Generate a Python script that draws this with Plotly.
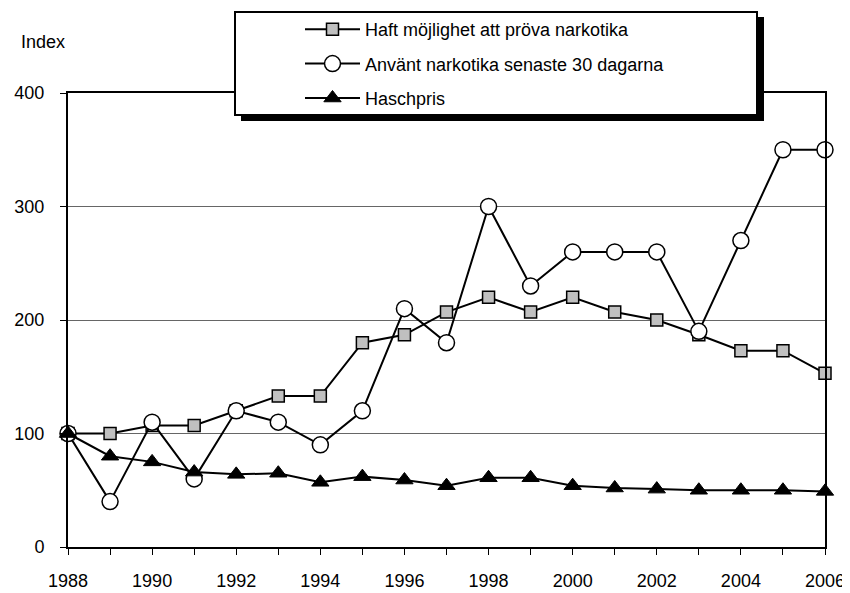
import plotly.graph_objects as go

years = list(range(1988, 2007))
haft = [100, 100, 107, 107, 120, 133, 133, 180, 187, 207, 220, 207, 220, 207, 200, 187, 173, 173, 153]
anvant = [100, 40, 110, 60, 120, 110, 90, 120, 210, 180, 300, 230, 260, 260, 260, 190, 270, 350, 350]
hasch = [100, 80, 75, 66, 64, 65, 57, 62, 59, 54, 61, 61, 54, 52, 51, 50, 50, 50, 49]
names = ["Haft möjlighet att pröva narkotika", "Använt narkotika senaste 30 dagarna", "Haschpris"]
xticks = list(range(1988, 2007, 2))
yticks = [0, 100, 200, 300, 400]

FONT = "Liberation Sans, Arial, sans-serif"
OFF = 8  # page body margin
W, H = 850 - OFF, 593 - OFF
ML, MR, MT, MB = 68 - OFF, 25, 93 - OFF, 46
PW, PH = W - ML - MR, H - MT - MB


def px_x(p):
    return (p - OFF - ML) / PW


def px_y(p):
    return (H - MB - (p - OFF)) / PH


fig = go.Figure()
fig.add_trace(go.Scatter(
    x=years, y=haft, name=names[0], mode="lines+markers", legendgroup="a",
    line=dict(color="black", width=2), cliponaxis=False,
    marker=dict(symbol="square", size=12, color="#c0c0c0", line=dict(color="black", width=1.5))))
fig.add_trace(go.Scatter(
    x=years, y=anvant, name=names[1], mode="lines+markers", legendgroup="b",
    line=dict(color="black", width=2), cliponaxis=False,
    marker=dict(symbol="circle", size=16, color="white", line=dict(color="black", width=1.5))))
fig.add_trace(go.Scatter(
    x=years, y=hasch, name=names[2], mode="lines+markers", legendgroup="c",
    line=dict(color="black", width=2), cliponaxis=False,
    marker=dict(symbol="triangle-up", size=15, color="black", line=dict(color="black", width=1))))

# legend box with shadow
bx0, by0, bx1, by1 = 235, 12, 757, 115
fig.add_shape(type="rect", xref="paper", yref="paper", layer="above",
              x0=px_x(bx0 + 6), x1=px_x(bx1 + 7), y0=px_y(by1 + 6), y1=px_y(by0 + 5),
              fillcolor="black", line=dict(width=0))
fig.add_shape(type="rect", xref="paper", yref="paper", layer="above",
              x0=px_x(bx0), x1=px_x(bx1), y0=px_y(by1), y1=px_y(by0),
              fillcolor="white", line=dict(color="black", width=2))

fig.add_annotation(text="Index", xref="paper", yref="paper", x=px_x(43), y=px_y(42),
                   xanchor="center", yanchor="middle", showarrow=False,
                   font=dict(family=FONT, size=18, color="black"))

fig.update_layout(
    width=W, height=H, margin=dict(l=ML, r=MR, t=MT, b=MB, autoexpand=False),
    paper_bgcolor="white", plot_bgcolor="white",
    font=dict(family=FONT, size=18, color="black"),
    showlegend=True,
    legend=dict(x=px_x(300), y=px_y(11), xanchor="left", yanchor="top",
                bgcolor="rgba(0,0,0,0)", borderwidth=0, traceorder="grouped",
                tracegroupgap=8, itemwidth=55, font=dict(family=FONT, size=18)),
    xaxis=dict(range=[1988, 2006], tickmode="array", tickvals=years,
               ticktext=[str(y) if y in xticks else "" for y in years],
               ticks="outside", ticklen=6, tickwidth=1, tickcolor="black",
               showline=True, linecolor="black", linewidth=2, mirror=True,
               showgrid=False, zeroline=False, tickfont=dict(size=18), ticklabelstandoff=10),
    yaxis=dict(range=[0, 400], tickvals=yticks, ticks="outside", ticklen=6, tickcolor="black",
               showline=True, linecolor="black", linewidth=2, mirror=True,
               showgrid=True, gridcolor="#666666", gridwidth=1, zeroline=False,
               tickfont=dict(size=18), ticklabelstandoff=12),
)

fig.write_html("out.html")
